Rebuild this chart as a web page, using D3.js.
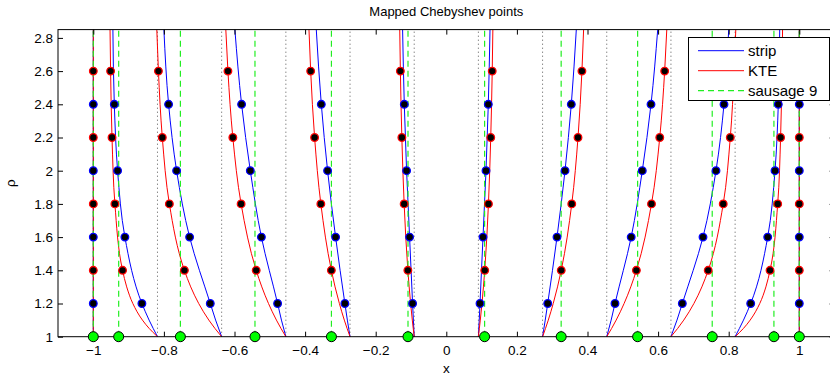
<!DOCTYPE html>
<html><head><meta charset="utf-8">
<script src="https://cdn.jsdelivr.net/npm/d3@7"></script>
<style>
body{margin:0;background:#fff;}
svg{display:block;font-family:"Liberation Sans",Arial,Helvetica,sans-serif;}
</style>
</head><body>
<svg id="chart" width="830" height="378"></svg>
<script>
// ---------- data ----------
const titleText = "Mapped Chebyshev points";
const xLabelText = "x";
const yLabelText = "ρ";
const xTicks = [-1, -0.8, -0.6, -0.4, -0.2, 0, 0.2, 0.4, 0.6, 0.8, 1];
const rhoTicks = [1, 1.2, 1.4, 1.6, 1.8, 2, 2.2, 2.4, 2.6, 2.8];
const legendLabels = ["strip", "KTE", "sausage 9"];

// equispaced points (dotted lines)
const equiPoints = [-1, -0.8182, -0.6364, -0.4545, -0.2727, -0.0909, 0.0909, 0.2727, 0.4545, 0.6364, 0.8182, 1];
// sausage-9 mapped points (green dashed lines and dots at rho = 1)
const sausagePoints = [-1, -0.9281, -0.7533, -0.5420, -0.3254, -0.1085, 0.1085, 0.3254, 0.5420, 0.7533, 0.9281, 1];

// strip map: x position of each mapped point at these rho values
const stripRho = [1, 1.1, 1.2, 1.6, 2.0, 2.4, 2.85];
const stripX = [
  [-1, -1, -1, -1, -1, -1, -1],
  [-0.8182, -0.8419, -0.8623, -0.9105, -0.9312, -0.9405, -0.9445],
  [-0.6364, -0.6535, -0.6686, -0.7272, -0.7640, -0.7867, -0.8000],
  [-0.4545, -0.4670, -0.4779, -0.5238, -0.5552, -0.5799, -0.5989],
  [-0.2727, -0.2803, -0.2873, -0.3136, -0.3363, -0.3541, -0.3683],
  [-0.0909, -0.0933, -0.0955, -0.1040, -0.1125, -0.1190, -0.1238],
  [0.0909, 0.0933, 0.0955, 0.1040, 0.1125, 0.1190, 0.1238],
  [0.2727, 0.2803, 0.2873, 0.3136, 0.3363, 0.3541, 0.3683],
  [0.4545, 0.4670, 0.4779, 0.5238, 0.5552, 0.5799, 0.5989],
  [0.6364, 0.6535, 0.6686, 0.7272, 0.7640, 0.7867, 0.8000],
  [0.8182, 0.8419, 0.8623, 0.9105, 0.9312, 0.9405, 0.9445],
  [1, 1, 1, 1, 1, 1, 1]
];
const stripMarkRho = [1.2, 1.6, 2.0, 2.4];

// KTE map
const kteRho = [1, 1.05, 1.1, 1.2, 1.3, 1.4, 1.8, 2.2, 2.6, 2.85];
const kteX = [
  [-1, -1, -1, -1, -1, -1, -1, -1, -1, -1],
  [-0.8182, -0.8418, -0.8608, -0.8880, -0.9054, -0.9171, -0.9388, -0.9470, -0.9510, -0.9526],
  [-0.6364, -0.6555, -0.6727, -0.7014, -0.7240, -0.7419, -0.7845, -0.8045, -0.8155, -0.8201],
  [-0.4545, -0.4684, -0.4812, -0.5037, -0.5226, -0.5385, -0.5813, -0.6047, -0.6186, -0.6246],
  [-0.2727, -0.2811, -0.2889, -0.3029, -0.3151, -0.3256, -0.3554, -0.3731, -0.3842, -0.3890],
  [-0.0909, -0.0937, -0.0963, -0.1011, -0.1052, -0.1089, -0.1194, -0.1259, -0.1301, -0.1319],
  [0.0909, 0.0937, 0.0963, 0.1011, 0.1052, 0.1089, 0.1194, 0.1259, 0.1301, 0.1319],
  [0.2727, 0.2811, 0.2889, 0.3029, 0.3151, 0.3256, 0.3554, 0.3731, 0.3842, 0.3890],
  [0.4545, 0.4684, 0.4812, 0.5037, 0.5226, 0.5385, 0.5813, 0.6047, 0.6186, 0.6246],
  [0.6364, 0.6555, 0.6727, 0.7014, 0.7240, 0.7419, 0.7845, 0.8045, 0.8155, 0.8201],
  [0.8182, 0.8418, 0.8608, 0.8880, 0.9054, 0.9171, 0.9388, 0.9470, 0.9510, 0.9526],
  [1, 1, 1, 1, 1, 1, 1, 1, 1, 1]
];
const kteMarkRho = [1.4, 1.8, 2.2, 2.6];

// ---------- layout ----------
const W = 830, H = 378;
const plot = {left: 58, right: 834.6, top: 29.6, bottom: 336.7};
const xDomain = [-1.1, 1.1];
const rhoDomain = [1, 2.85];

const svg = d3.select("#chart");
const x = d3.scaleLinear().domain(xDomain).range([plot.left, plot.right]);
const y = d3.scaleLinear().domain(rhoDomain).range([plot.bottom, plot.top]);

svg.append("rect").attr("width", W).attr("height", H).attr("fill", "#fff");

svg.append("defs").append("clipPath").attr("id", "clip")
  .append("rect").attr("x", plot.left).attr("y", plot.top)
  .attr("width", plot.right - plot.left).attr("height", plot.bottom - plot.top);

const g = svg.append("g").attr("clip-path", "url(#clip)");

// dotted lines at equispaced points
g.selectAll(".equi").data(equiPoints).join("line")
  .attr("x1", d => x(d)).attr("x2", d => x(d))
  .attr("y1", y(rhoDomain[0])).attr("y2", y(rhoDomain[1]))
  .attr("stroke", "#555").attr("stroke-width", 1)
  .attr("stroke-dasharray", "1,3");

const line = d3.line().x(d => x(d[0])).y(d => y(d[1])).curve(d3.curveMonotoneY);

// strip lines (blue)
g.selectAll(".strip").data(stripX).join("path")
  .attr("d", row => line(row.map((v, i) => [v, stripRho[i]])))
  .attr("fill", "none").attr("stroke", "#0000ff").attr("stroke-width", 1);

// KTE lines (red)
g.selectAll(".kte").data(kteX).join("path")
  .attr("d", row => line(row.map((v, i) => [v, kteRho[i]])))
  .attr("fill", "none").attr("stroke", "#ff0000").attr("stroke-width", 1);

// sausage dashed lines (green)
g.selectAll(".saus").data(sausagePoints).join("line")
  .attr("x1", d => x(d)).attr("x2", d => x(d))
  .attr("y1", y(rhoDomain[0])).attr("y2", y(rhoDomain[1]))
  .attr("stroke", "#22ee22").attr("stroke-width", 1.2)
  .attr("stroke-dasharray", "6,4");

// markers
const stripMarks = [];
stripX.forEach(row => row.forEach((v, i) => {
  if (stripMarkRho.includes(stripRho[i])) stripMarks.push([v, stripRho[i]]);
}));
const kteMarks = [];
kteX.forEach(row => row.forEach((v, i) => {
  if (kteMarkRho.includes(kteRho[i])) kteMarks.push([v, kteRho[i]]);
}));

svg.selectAll(".sm").data(stripMarks).join("circle")
  .attr("cx", d => x(d[0])).attr("cy", d => y(d[1])).attr("r", 3.8)
  .attr("fill", "#000").attr("stroke", "#0000ff").attr("stroke-width", 1.3);
svg.selectAll(".km").data(kteMarks).join("circle")
  .attr("cx", d => x(d[0])).attr("cy", d => y(d[1])).attr("r", 3.8)
  .attr("fill", "#000").attr("stroke", "#ff0000").attr("stroke-width", 1.3);

// axes box
svg.append("rect").attr("x", plot.left).attr("y", plot.top)
  .attr("width", plot.right - plot.left).attr("height", plot.bottom - plot.top)
  .attr("fill", "none").attr("stroke", "#000").attr("stroke-width", 1);

const fmt = d => (d < 0 ? "\u2212" : "") + d3.format("~g")(Math.abs(d));

const axB = svg.append("g").attr("transform", `translate(0,${plot.bottom})`)
  .call(d3.axisBottom(x).tickValues(xTicks).tickSizeInner(-5).tickSizeOuter(0).tickPadding(9).tickFormat(fmt));
const axT = svg.append("g").attr("transform", `translate(0,${plot.top})`)
  .call(d3.axisTop(x).tickValues(xTicks).tickSizeInner(-5).tickSizeOuter(0).tickFormat(""));
const axL = svg.append("g").attr("transform", `translate(${plot.left},0)`)
  .call(d3.axisLeft(y).tickValues(rhoTicks).tickSizeInner(-5).tickSizeOuter(0).tickPadding(5).tickFormat(d3.format("~g")));
const axR = svg.append("g").attr("transform", `translate(${plot.right},0)`)
  .call(d3.axisRight(y).tickValues(rhoTicks).tickSizeInner(-5).tickSizeOuter(0).tickFormat(""));
[axB, axT, axL, axR].forEach(a => {
  a.select(".domain").remove();
  a.selectAll("text").attr("font-size", 13.5).attr("fill", "#000")
    .attr("font-family", "'Liberation Sans',Arial,sans-serif");
  a.selectAll("line").attr("stroke", "#000");
});

// green dots at rho = 1
svg.selectAll(".gd").data(sausagePoints).join("circle")
  .attr("cx", d => x(d)).attr("cy", y(rhoDomain[0])).attr("r", 5)
  .attr("fill", "#00ff00").attr("stroke", "#000").attr("stroke-width", 1);

// title & labels
svg.append("text").attr("x", (plot.left + plot.right) / 2).attr("y", 16)
  .attr("text-anchor", "middle").attr("font-size", 13).text(titleText);
svg.append("text").attr("x", (plot.left + plot.right) / 2).attr("y", 373)
  .attr("text-anchor", "middle").attr("font-size", 13.5).text(xLabelText);
svg.append("text").attr("transform", `translate(15,${(plot.top + plot.bottom) / 2}) rotate(-90)`)
  .attr("text-anchor", "middle").attr("font-size", 13.5).text(yLabelText);

// legend
const lg = svg.append("g");
lg.append("rect").attr("x", 688.5).attr("y", 37.5).attr("width", 141).attr("height", 63)
  .attr("fill", "#fff").attr("stroke", "#000").attr("stroke-width", 1);
const legendStyles = [
  {stroke: "#0000ff", dash: null, w: 1},
  {stroke: "#ff0000", dash: null, w: 1},
  {stroke: "#22ee22", dash: "6,4", w: 1.2}
];
const legendY = d3.scalePoint().domain(legendLabels).range([50.7, 90.7]);
legendLabels.forEach((lab, i) => {
  const yy = legendY(lab);
  lg.append("line").attr("x1", 698).attr("x2", 744).attr("y1", yy).attr("y2", yy)
    .attr("stroke", legendStyles[i].stroke).attr("stroke-width", legendStyles[i].w)
    .attr("stroke-dasharray", legendStyles[i].dash);
  lg.append("text").attr("x", 748).attr("y", yy + 5).attr("font-size", 15).text(lab);
});
</script>
</body></html>
